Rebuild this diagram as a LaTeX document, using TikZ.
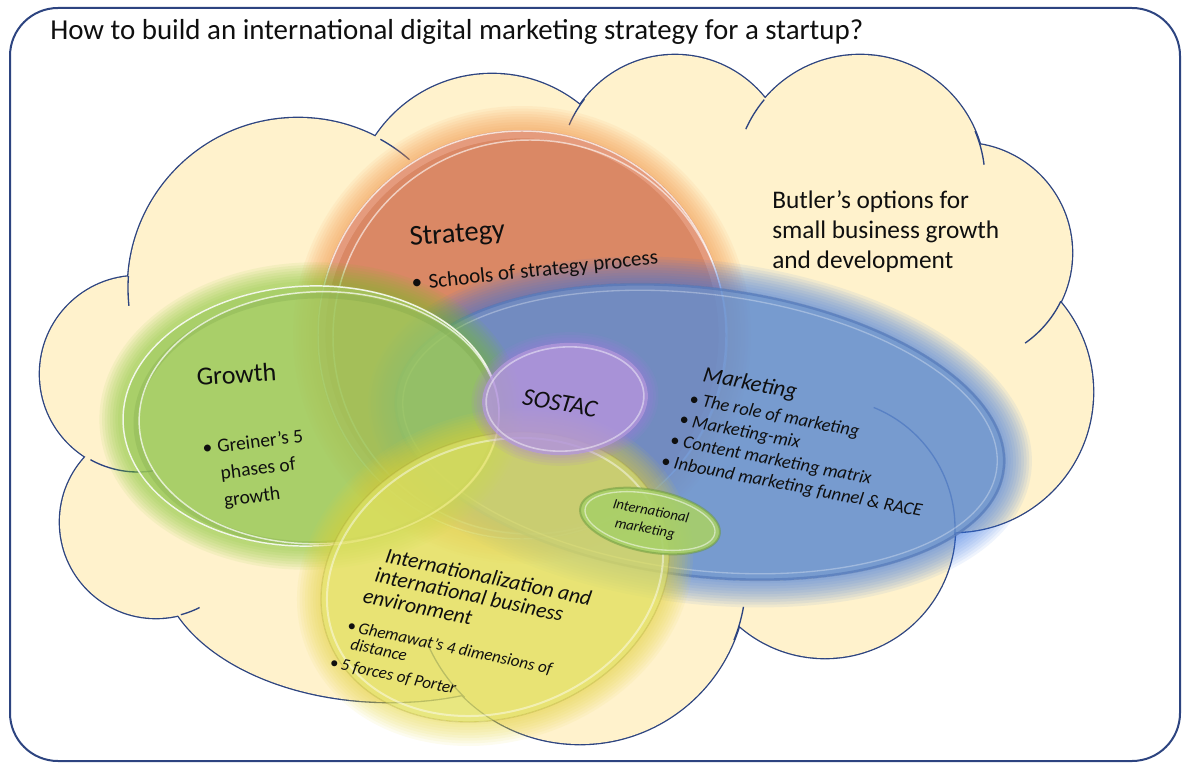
\documentclass[tikz,border=0pt]{standalone}
\usepackage{fontspec}
\setmainfont{Carlito}
\definecolor{navy}{RGB}{45,68,128}
\definecolor{cloudfill}{RGB}{255,242,204}
\definecolor{orangeF}{RGB}{216,128,94}
\definecolor{orangeG}{RGB}{244,150,70}
\definecolor{orangeL}{RGB}{240,175,150}
\definecolor{blueF}{RGB}{96,140,208}
\definecolor{blueG}{RGB}{55,115,225}
\definecolor{blueD}{RGB}{70,105,175}
\definecolor{greenF}{RGB}{155,201,88}
\definecolor{greenG}{RGB}{115,195,35}
\definecolor{greenD}{RGB}{105,150,60}
\definecolor{yellowF}{RGB}{226,224,92}
\definecolor{yellowG}{RGB}{228,212,55}
\definecolor{purpleF}{RGB}{178,148,220}
\definecolor{purpleG}{RGB}{170,120,230}
\definecolor{intlF}{RGB}{168,208,104}
\definecolor{ink}{RGB}{15,15,15}
\newcommand\fs[1]{\fontsize{#1}{#1}\selectfont}
\newcommand\fsl[2]{\fontsize{#1}{#2}\selectfont}
\begin{document}
\begin{tikzpicture}[x=0.75pt,y=-0.75pt,
  frameline/.style={draw=navy, line width=1.5pt, rounded corners=36pt},
  cloudouter/.style={draw=navy, line width=2pt},
  cloudtick/.style={draw=navy, line width=1pt},
  txt/.style={inner sep=0pt, text=ink}]
\useasboundingbox (0,0) rectangle (1187,763);

% frame
\draw[frameline] (10,8) rectangle (1180,761);

% ---------------- cloud ----------------
\foreach \cx/\cy/\r in {298/288/170, 138/374/98, 156/522/96, 580/578/166, 825/528/130, 953/392/140, 962/253/110, 860/180/125, 675/170/115, 492/214/140}
  \draw[cloudouter] (\cx,\cy) circle (\r);
\draw[cloudouter] (390,560) ellipse [x radius=230, y radius=142];
\foreach \cx/\cy/\r in {298/288/170, 138/374/98, 156/522/96, 580/578/166, 825/528/130, 953/392/140, 962/253/110, 860/180/125, 675/170/115, 492/214/140}
  \fill[cloudfill] (\cx,\cy) circle (\r);
\fill[cloudfill] (390,560) ellipse [x radius=230, y radius=142];
\fill[cloudfill] (200,300) -- (400,200) -- (900,200) -- (1000,300) -- (1000,500) -- (800,600) -- (300,600) -- (150,500) -- cycle;
% inner arcs of the cloud
\draw[cloudtick] (298,288) ++(-61:170) arc[start angle=-61, end angle=-49, radius=170];
\draw[cloudtick] (298,288) ++(174:170) arc[start angle=174, end angle=184, radius=170];
\draw[cloudtick] (675,170) ++(203:115) arc[start angle=203, end angle=218, radius=115];
\draw[cloudtick] (860,180) ++(204:125) arc[start angle=204, end angle=220, radius=125];
\draw[cloudtick] (860,180) ++(-23:125) arc[start angle=-23, end angle=-7, radius=125];
\draw[cloudtick] (962,253) ++(26:110) arc[start angle=26, end angle=55, radius=110];
\draw[cloudtick] (825,528) ++(-68:130) arc[start angle=-68, end angle=3, radius=130];
\draw[cloudtick] (580,578) ++(10:166) arc[start angle=10, end angle=22, radius=166];
\draw[cloudtick] (580,578) ++(134:166) arc[start angle=134, end angle=157, radius=166];
\draw[cloudtick] (156,522) ++(63:96) arc[start angle=63, end angle=75, radius=96];
\draw[cloudtick] (138,374) ++(81:98) arc[start angle=81, end angle=119, radius=98];

% ---------------- Strategy (orange) ----------------
\begin{scope}[shift={(522,335)}]
  \begin{scope}[even odd rule]
    \clip (-1500,-1500) rectangle (1500,1500) (0,0) circle (205);
    \foreach \w in {36,32,...,4}
      \draw[orangeG, opacity=0.08, line width=\w pt] (0,0) circle (205);
  \end{scope}
  \fill[orangeF, opacity=.93] (0,0) circle (205);
  \draw[orangeL, opacity=.5, line width=5pt] (0,0) circle (200);
  \draw[white, opacity=.75, line width=1.1pt] (0,0) circle (204);
  \draw[white, opacity=.6, line width=1.1pt] (8,2) circle (197);
\end{scope}

% ---------------- Marketing (blue) ----------------
\begin{scope}[shift={(700,432)}, rotate=-7]
  \begin{scope}[even odd rule]
    \clip (-1500,-1500) rectangle (1500,1500) (0,0) ellipse [x radius=307, y radius=145];
    \foreach \w in {40,36,...,4}
      \draw[blueG, opacity=0.08, line width=\w pt] (0,0) ellipse [x radius=307, y radius=145];
  \end{scope}
  \fill[blueF, opacity=.85] (0,0) ellipse [x radius=307, y radius=145];
  \draw[blueD, opacity=.45, line width=2pt] (0,0) ellipse [x radius=306, y radius=144];
  \draw[white, opacity=.3, line width=1pt] (0,0) ellipse [x radius=299, y radius=138];
\end{scope}

% ---------------- Growth (green) ----------------
\begin{scope}[shift={(311,416)}, rotate=2]
  \begin{scope}[even odd rule]
    \clip (-1500,-1500) rectangle (1500,1500) (0,0) ellipse [x radius=189, y radius=131];
    \foreach \w in {34,30,...,4}
      \draw[greenG, opacity=0.08, line width=\w pt] (0,0) ellipse [x radius=189, y radius=131];
  \end{scope}
  \fill[greenF, opacity=.85] (0,0) ellipse [x radius=189, y radius=131];
  \draw[greenD, opacity=.2, line width=4pt] (5,4) ellipse [x radius=180, y radius=124];
  \draw[white, opacity=.85, line width=1.1pt] (0,0) ellipse [x radius=188, y radius=130];
  \draw[white, opacity=.7, line width=1.1pt] (8,2) ellipse [x radius=180, y radius=126];
\end{scope}

% ---------------- Internationalization (yellow) ----------------
\begin{scope}[shift={(495,577)}, rotate=20]
  \begin{scope}[even odd rule]
    \clip (-1500,-1500) rectangle (1500,1500) (0,0) ellipse [x radius=178, y radius=140];
    \foreach \w in {36,32,...,4}
      \draw[yellowG, opacity=0.08, line width=\w pt] (0,0) ellipse [x radius=178, y radius=140];
  \end{scope}
  \fill[yellowF, opacity=.78] (0,0) ellipse [x radius=178, y radius=140];
  \draw[white, opacity=.45, line width=1.5pt] (0,0) ellipse [x radius=172, y radius=134];
  \draw[yellowG!70!black, opacity=.25, line width=1pt] (0,0) ellipse [x radius=178, y radius=140];
\end{scope}

% ---------------- SOSTAC (purple) ----------------
\begin{scope}[shift={(565,399)}, rotate=4]
  \begin{scope}[even odd rule]
    \clip (-1500,-1500) rectangle (1500,1500) (0,0) ellipse [x radius=83, y radius=56];
    \foreach \w in {16,12,8,4}
      \draw[purpleG, opacity=0.1, line width=\w pt] (0,0) ellipse [x radius=83, y radius=56];
  \end{scope}
  \fill[purpleF, opacity=.85] (0,0) ellipse [x radius=83, y radius=56];
  \draw[white, opacity=.45, line width=1.2pt] (0,0) ellipse [x radius=79, y radius=52];
\end{scope}

% ---------------- International marketing ----------------
\begin{scope}[shift={(650,521)}, rotate=-11]
  \fill[intlF, opacity=.9] (0,0) ellipse [x radius=71, y radius=31];
  \draw[greenD, opacity=.5, line width=1.5pt] (0,0) ellipse [x radius=71, y radius=31];
  \draw[white, opacity=.5, line width=1pt] (0,0) ellipse [x radius=66, y radius=27];
\end{scope}

% ---------------- texts ----------------
\node[txt, anchor=base west, font=\fs{21.7}] (title) at (50,40) {How to build an international digital marketing strategy for a startup?};

\node[txt, anchor=base west, rotate=4.5, font=\fs{21.5}] (strat) at (410,246) {Strategy};
\node[txt, anchor=base west, rotate=6, font=\fs{15.8}] (schools) at (412,290) {•\hspace{5pt}Schools of strategy process};

\node[txt, anchor=base west, rotate=4, font=\fs{19.5}] (growth) at (197,386) {Growth};
\node[txt, anchor=base west, rotate=7, font=\fsl{14.6}{20.25}] (greiner) at (203,454.5)
  {\begin{tabular}[t]{@{}l@{}}•\hspace{4pt}Greiner’s 5\\\hphantom{•}\hspace{4pt}phases of\\\hphantom{•}\hspace{4pt}growth\end{tabular}};

\node[txt, rotate=-10, font=\fs{18.5}\itshape] (sostac) at (560,403) {SOSTAC};

\node[txt, anchor=base west, font=\fs{19}] (bu1) at (772,208) {Butler’s options for};
\node[txt, anchor=base west, font=\fs{19}] (bu2) at (772,238) {small business growth};
\node[txt, anchor=base west, font=\fs{19}] (bu3) at (772,268) {and development};

\node[txt, anchor=base west, rotate=-11, font=\fsl{13.8}{16.5}\itshape] (mkt) at (677.5,376.2)
  {\begin{tabular}[t]{@{}l@{}}\hspace{18.7pt}{\fs{17}Marketing}\\[2.6pt]
   \hspace{12pt}•\hspace{3pt}The role of marketing\\
   \hspace{7.5pt}•\hspace{3pt}Marketing-mix\\
   \hspace{3.7pt}•\hspace{3pt}Content marketing matrix\\
   •\hspace{3pt}Inbound marketing funnel \& RACE\end{tabular}};

\node[txt, anchor=base west, rotate=-12, font=\fsl{12.7}{15.5}\itshape] (intz) at (352.7,555.3)
  {\begin{tabular}[t]{@{}l@{}}\hspace{24pt}{\fs{16.2}Internationalization and}\\[0.2pt]
   \hspace{19.6pt}{\fs{16.2}international business}\\[1.2pt]
   \hspace{14pt}{\fs{16.2}environment}\\[7.8pt]
   \hspace{7.2pt}•\hspace{2pt}Ghemawat’s 4 dimensions of\\[-2.5pt]
   \hspace{12.4pt}distance\\[1pt]
   •\hspace{2pt}5 forces of Porter\end{tabular}};

\node[txt, anchor=base west, rotate=-11, font=\fsl{11}{13.7}\itshape] (intl) at (612,508)
  {\begin{tabular}[t]{@{}l@{}}International\\\hspace{4.2pt}marketing\end{tabular}};
\end{tikzpicture}
\end{document}
